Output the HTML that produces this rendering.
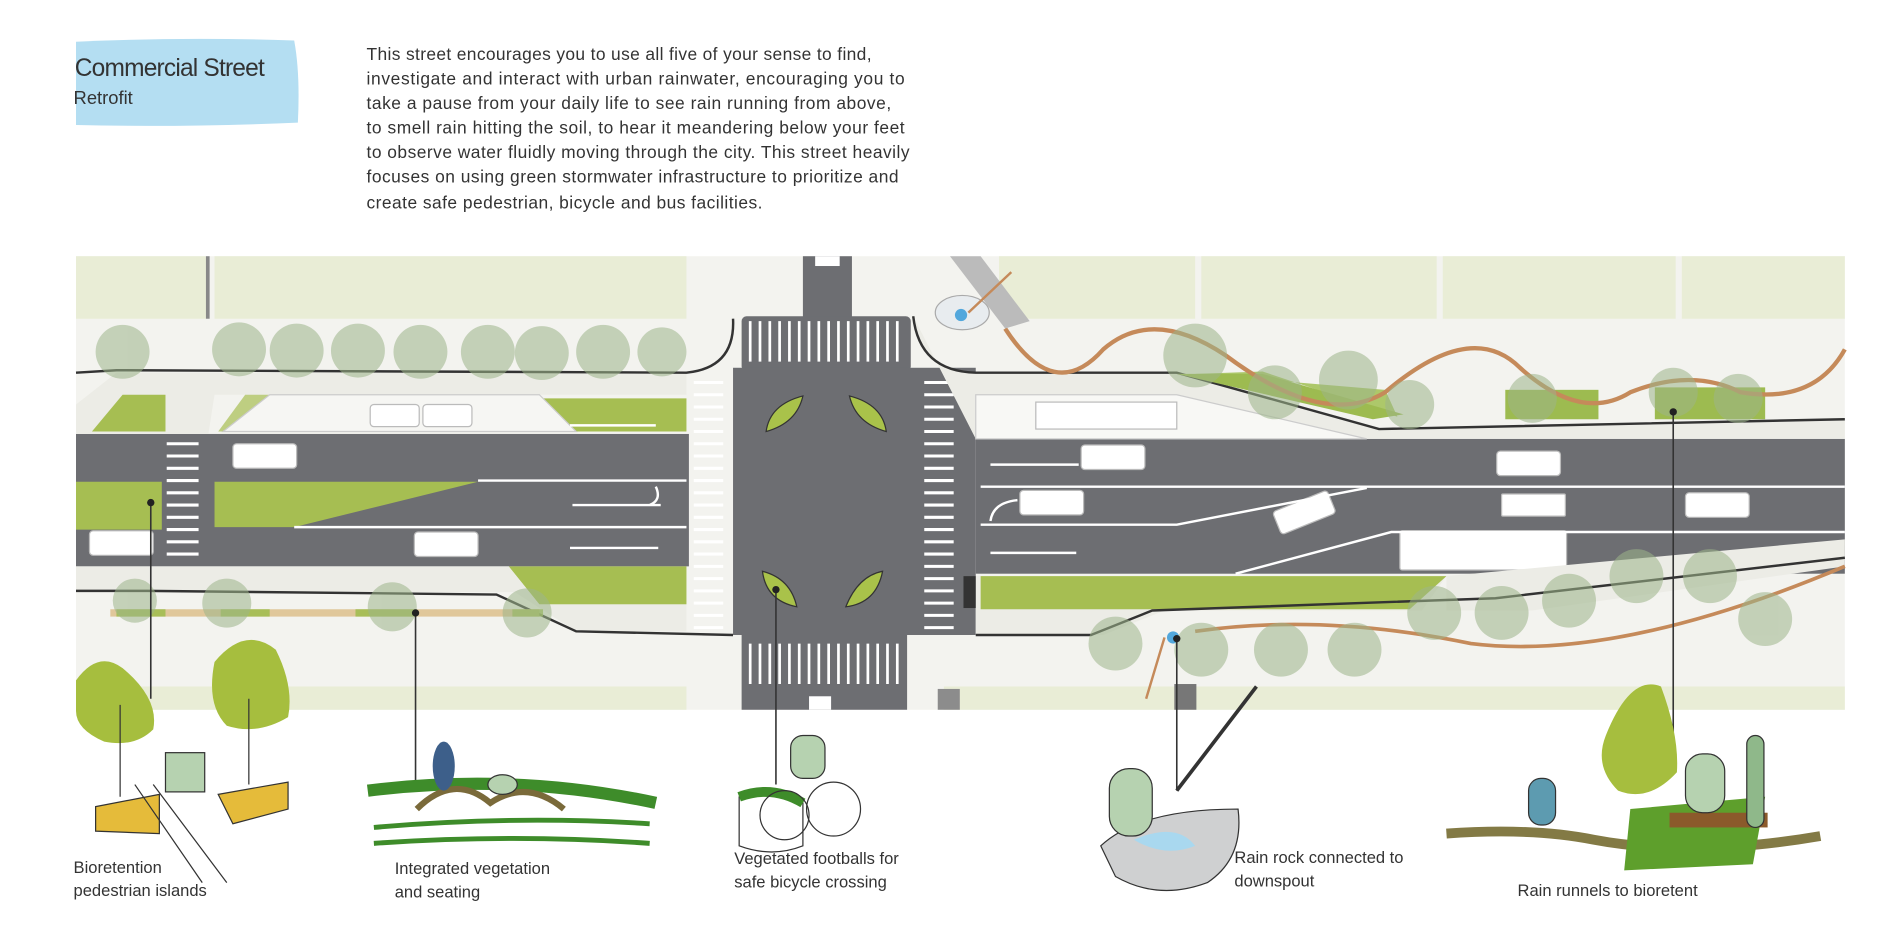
<!DOCTYPE html>
<html><head><meta charset="utf-8"><style>
html,body{margin:0;padding:0;background:#fff;width:1900px;height:927px;overflow:hidden}
svg{display:block}
text{font-family:"Liberation Sans",sans-serif;fill:#333}
</style></head><body>
<svg width="1900" height="927" viewBox="0 0 1550 756.2" xmlns="http://www.w3.org/2000/svg">
<!-- title -->
<path d="M62 34 Q150 30 240 33 Q245 60 243 100 Q150 104 62 102 Z" fill="#b4def2"/>
<text x="61" y="62" font-size="20" fill="#222" textLength="155">Commercial Street</text>
<text x="60" y="85" font-size="15" fill="#333">Retrofit</text>
<g font-size="14.2" fill="#333">
<text x="299" y="49" textLength="412">This street encourages you to use all five of your sense to find,</text>
<text x="299" y="69" textLength="439">investigate and interact with urban rainwater, encouraging you to</text>
<text x="299" y="89" textLength="428">take a pause from your daily life to see rain running from above,</text>
<text x="299" y="109" textLength="439">to smell rain hitting the soil, to hear it meandering below your feet</text>
<text x="299" y="129" textLength="443">to observe water fluidly moving through the city. This street heavily</text>
<text x="299" y="149" textLength="434">focuses on using green stormwater infrastructure to prioritize and</text>
<text x="299" y="170" textLength="323">create safe pedestrian, bicycle and bus facilities.</text>
</g>
<!-- plan base -->
<rect x="62" y="209" width="1443" height="370" fill="#f3f3ef"/>
<g fill="#e9edd6">
<rect x="62" y="209" width="106" height="51"/><rect x="175" y="209" width="385" height="51"/>
<rect x="815" y="209" width="160" height="51"/><rect x="980" y="209" width="192" height="51"/>
<rect x="1177" y="209" width="190" height="51"/><rect x="1372" y="209" width="133" height="51"/>
<rect x="62" y="560" width="498" height="19"/><rect x="770" y="560" width="735" height="19"/>
</g>
<rect x="168" y="209" width="3" height="51" fill="#888"/>
<!-- roads -->
<g fill="#6d6e72">
<rect x="655" y="209" width="40" height="55"/>
<rect x="605" y="258" width="138" height="45" rx="4"/>
<rect x="598" y="300" width="198" height="218"/>
<rect x="605" y="515" width="135" height="64"/>
<rect x="62" y="354" width="500" height="108"/>
<rect x="796" y="358" width="709" height="110"/>
</g>
<rect x="660" y="568" width="18" height="11" fill="#fff"/>
<rect x="665" y="209" width="20" height="8" fill="#fff"/>
<!-- crosswalk stripes -->
<g stroke="#fff" stroke-width="2.2">
<path d="M612 262v33M620 262v33M628 262v33M636 262v33M644 262v33M652 262v33M660 262v33M668 262v33M676 262v33M684 262v33M692 262v33M700 262v33M708 262v33M716 262v33M724 262v33M732 262v33"/>
<path d="M612 525v33M620 525v33M628 525v33M636 525v33M644 525v33M652 525v33M660 525v33M668 525v33M676 525v33M684 525v33M692 525v33M700 525v33M708 525v33M716 525v33M724 525v33M732 525v33"/>
</g>
<g stroke="#fff" stroke-width="2.5">
<path id="zc" d="M566 312h24M566 322h24M566 332h24M566 342h24M566 352h24M566 362h24M566 372h24M566 382h24M566 392h24M566 402h24M566 412h24M566 422h24M566 432h24M566 442h24M566 452h24M566 462h24M566 472h24M566 482h24M566 492h24M566 502h24M566 512h24"/>
<path d="M754 312h24M754 322h24M754 332h24M754 342h24M754 352h24M754 362h24M754 372h24M754 382h24M754 392h24M754 402h24M754 412h24M754 422h24M754 432h24M754 442h24M754 452h24M754 462h24M754 472h24M754 482h24M754 492h24M754 502h24M754 512h24"/>
<path d="M136 322h26M136 332h26M136 342h26M136 352h26M136 362h26M136 372h26M136 382h26M136 392h26M136 402h26M136 412h26M136 422h26M136 432h26M136 442h26M136 452h26"/>
</g>
<!-- footballs -->
<g fill="#a9c24a" stroke="#333" stroke-width="1">
<path d="M625 352 Q628 330 655 323 Q650 345 625 352Z"/>
<path d="M693 323 Q720 330 723 352 Q698 345 693 323Z"/>
<path d="M622 466 Q645 472 650 495 Q625 490 622 466Z"/>
<path d="M720 466 Q700 470 690 495 Q715 492 720 466Z"/>
</g>
<!-- left side sidewalks & greens -->
<path d="M62 330 L95 304 L560 304 L560 322 L175 322 L170 354 L62 354Z" fill="#ecece6"/>
<path d="M62 304 L95 302 L560 304 Q600 300 598 260" fill="none" stroke="#333" stroke-width="2"/>
<g fill="#a6be52">
<path d="M75 352 L100 322 L135 322 L135 352Z"/>
<path d="M178 352 L200 322 L230 322 L230 352Z" opacity=".7"/>
<path d="M430 325 L560 325 L560 352 L460 352Z"/>
<path d="M62 393 L132 393 L132 432 L62 432Z"/>
<path d="M175 393 L390 393 L240 430 L175 430Z"/>
<path d="M415 462 L560 462 L560 493 L440 493Z"/>
</g>
<path d="M182 352 L220 322 L440 322 L470 352Z" fill="#f6f6f3" stroke="#ccc"/>
<g fill="#fff" stroke="#bbb" stroke-width="1">
<rect x="302" y="330" width="40" height="18" rx="3"/><rect x="345" y="330" width="40" height="18" rx="3"/>
<rect x="190" y="362" width="52" height="20" rx="3"/><rect x="338" y="434" width="52" height="20" rx="3"/>
<rect x="73" y="433" width="52" height="20" rx="3"/>
<rect x="882" y="363" width="52" height="20" rx="3"/><rect x="1221" y="368" width="52" height="20" rx="3"/>
<rect x="832" y="400" width="52" height="20" rx="3"/><rect x="1225" y="403" width="52" height="18" rx="1"/>
<rect x="1375" y="402" width="52" height="20" rx="3"/>
<rect x="1040" y="408" width="48" height="20" rx="3" transform="rotate(-22 1064 418)"/>
<rect x="1142" y="433" width="136" height="32" rx="2"/>
</g>
<g stroke="#fff" stroke-width="2" fill="none">
<path d="M240 430 L560 430M390 392 L560 392M465 347h70M467 412h72M465 447h72M535 397 Q540 408 530 412"/>
<path d="M800 397 L1505 397M800 428 L960 428 L1115 398M1008 468 L1135 434 L1505 434M880 379h-72M808 451h70M830 408 Q810 410 808 425"/>
</g>
<!-- left bottom sidewalk -->
<path d="M62 462 L415 462 L440 493 L560 493 L560 515 L470 515 L420 483 L62 483Z" fill="#ecece6"/>
<path d="M62 482 L120 482 L405 485 L470 515 L598 518" fill="none" stroke="#333" stroke-width="2"/>
<rect x="90" y="497" width="350" height="6" fill="#e0c79a"/>
<g fill="#9bbd48" opacity=".8"><rect x="95" y="497" width="40" height="6"/><rect x="180" y="497" width="40" height="6"/><rect x="290" y="497" width="50" height="6"/><rect x="418" y="497" width="25" height="6"/></g>
<!-- right side -->
<path d="M745 258 Q750 303 796 304 L960 304 L1125 350 L1505 342 L1505 358 L796 358 Z" fill="#ecece6"/>
<path d="M745 258 Q750 303 796 304 L960 304 L1125 350 L1505 342" fill="none" stroke="#333" stroke-width="2"/>
<path d="M796 322 L960 322 L1115 358 L796 358Z" fill="#f8f8f5" stroke="#ccc"/>
<rect x="845" y="328" width="115" height="22" fill="#fff" stroke="#bbb"/>
<path d="M975 305 L1030 303 L1140 340 L1130 318Z" fill="#9bbd48" opacity=".8"/>
<path d="M960 305 L1030 305 L1145 338 L1120 342Z" fill="#9dbb50"/>
<rect x="1228" y="318" width="76" height="24" fill="#9dbb50"/>
<rect x="1350" y="316" width="90" height="26" fill="#9dbb50"/>
<path d="M820 268 Q860 330 900 285 Q940 250 1000 290 Q1080 350 1130 320 Q1200 260 1240 300 Q1290 345 1330 320 Q1380 300 1420 320 Q1480 330 1505 285" fill="none" stroke="#c58a5a" stroke-width="3.5"/>
<path d="M796 470 L1180 470 L1160 498 L950 498 L900 518 L796 518Z" fill="#ecece6"/>
<path d="M800 470 L1180 470 L1150 497 L800 497Z" fill="#a6be52"/>
<path d="M1180 470 L1505 440 L1505 462 L1250 498 L1180 498Z" fill="#ecece6"/>
<path d="M796 518 L890 518 L940 498 L1220 488 L1505 455" fill="none" stroke="#333" stroke-width="2"/>
<path d="M975 515 Q1080 500 1200 525 Q1320 540 1505 462" fill="none" stroke="#c58a5a" stroke-width="3"/>
<rect x="786" y="470" width="10" height="26" fill="#333"/>
<rect x="765" y="562" width="18" height="17" fill="#8c8c8c"/><rect x="958" y="558" width="18" height="21" fill="#777"/>
<path d="M775 209 L800 209 L840 262 L820 268Z" fill="#bbb"/>
<ellipse cx="785" cy="255" rx="22" ry="14" fill="#e8ecef" stroke="#aaa"/><circle cx="784" cy="257" r="5" fill="#52a7dc"/>
<path d="M790 255 L825 222M950 520 L935 570" stroke="#c58a5a" stroke-width="2"/>
<circle cx="957" cy="520" r="5" fill="#52a7dc"/>
<!-- trees -->
<g fill="#9db58a" opacity=".55">
<circle cx="100" cy="287" r="22"/><circle cx="195" cy="285" r="22"/><circle cx="242" cy="286" r="22"/><circle cx="292" cy="286" r="22"/><circle cx="343" cy="287" r="22"/><circle cx="398" cy="287" r="22"/><circle cx="442" cy="288" r="22"/><circle cx="492" cy="287" r="22"/><circle cx="540" cy="287" r="20"/>
<circle cx="975" cy="290" r="26"/><circle cx="1040" cy="320" r="22"/><circle cx="1100" cy="310" r="24"/><circle cx="1150" cy="330" r="20"/><circle cx="1250" cy="325" r="20"/><circle cx="1365" cy="320" r="20"/><circle cx="1418" cy="325" r="20"/>
<circle cx="110" cy="490" r="18"/><circle cx="185" cy="492" r="20"/><circle cx="320" cy="495" r="20"/><circle cx="430" cy="500" r="20"/>
<circle cx="910" cy="525" r="22"/><circle cx="980" cy="530" r="22"/><circle cx="1045" cy="530" r="22"/><circle cx="1105" cy="530" r="22"/><circle cx="1170" cy="500" r="22"/><circle cx="1225" cy="500" r="22"/><circle cx="1280" cy="490" r="22"/><circle cx="1335" cy="470" r="22"/><circle cx="1395" cy="470" r="22"/><circle cx="1440" cy="505" r="22"/>
</g>
<!-- callouts -->
<g stroke="#333" stroke-width="1.3">
<path d="M123 410 V570M339 500 V640M633 480 V640M960 520 V645M1365 335 V630"/>
</g>
<g fill="#222"><circle cx="123" cy="410" r="3"/><circle cx="339" cy="500" r="3"/><circle cx="633" cy="481" r="3"/><circle cx="960" cy="521" r="3"/><circle cx="1365" cy="336" r="3"/></g>
<!-- vignettes -->
<g fill="#a6be3e">
<path d="M62 555 Q80 530 100 545 Q130 570 125 595 Q110 610 85 605 Q62 595 62 580Z"/>
<path d="M175 540 Q200 510 225 530 Q240 560 235 585 Q210 600 185 592 Q168 575 175 540Z"/>
<path d="M1310 600 Q1330 550 1355 560 Q1370 600 1368 630 Q1345 655 1320 645 Q1300 625 1310 600Z"/>
</g>
<path d="M78 658 L130 648 L130 680 L78 678Z" fill="#e5bb3a" stroke="#333"/>
<path d="M178 648 L235 638 L235 660 L190 672Z" fill="#e5bb3a" stroke="#333"/>
<rect x="135" y="614" width="32" height="32" fill="#b6d2b0" stroke="#333"/>
<path d="M110 640 L165 720M125 640 L185 720M98 575 V650M203 570 V640" stroke="#333" fill="none"/>
<path d="M300 645 Q420 630 535 655" stroke="#3e8c2a" stroke-width="10" fill="none"/>
<path d="M305 675 Q420 665 530 672M305 688 Q420 680 530 688" stroke="#3e8c2a" stroke-width="4" fill="none"/>
<path d="M340 660 Q370 630 400 655 Q430 635 460 660" stroke="#7a6a3a" stroke-width="5" fill="none"/>
<ellipse cx="362" cy="625" rx="9" ry="20" fill="#3d5f8a"/><ellipse cx="410" cy="640" rx="12" ry="8" fill="#b6d2b0" stroke="#333"/>
<path d="M603 650 Q630 640 655 655 L655 690 Q630 700 603 690Z" fill="#fff" stroke="#333"/>
<path d="M603 650 Q630 640 655 655" stroke="#3e8c2a" stroke-width="8" fill="none"/>
<circle cx="680" cy="660" r="22" fill="none" stroke="#333"/><circle cx="640" cy="665" r="20" fill="none" stroke="#333"/>
<rect x="645" y="600" width="28" height="35" rx="10" fill="#b6d2b0" stroke="#333"/>
<path d="M898 690 Q930 660 1010 660 Q1015 700 985 720 Q945 735 910 715Z" fill="#cfd0d1" stroke="#333"/>
<path d="M925 685 Q960 670 975 690 Q950 700 925 685Z" fill="#a9d8ef"/>
<rect x="905" y="627" width="35" height="55" rx="16" fill="#b6d2b0" stroke="#333"/>
<path d="M1025 560 L960 645" stroke="#333" stroke-width="3" fill="none"/>
<path d="M1180 680 Q1250 675 1300 685 Q1380 700 1485 682" stroke="#837a45" stroke-width="8" fill="none"/>
<path d="M1330 660 L1440 650 L1430 705 L1325 710Z" fill="#5e9f2c"/>
<rect x="1362" y="663" width="80" height="12" fill="#8b5a2b"/>
<rect x="1375" y="615" width="32" height="48" rx="14" fill="#b6d2b0" stroke="#333"/>
<rect x="1425" y="600" width="14" height="75" rx="7" fill="#8fb88a" stroke="#333"/>
<rect x="1247" y="635" width="22" height="38" rx="10" fill="#5d9bb0" stroke="#333"/>
<!-- labels -->
<g font-size="13.5" fill="#333">
<text x="60" y="712">Bioretention</text><text x="60" y="731">pedestrian islands</text>
<text x="322" y="713">Integrated vegetation</text><text x="322" y="732">and seating</text>
<text x="599" y="705">Vegetated footballs for</text><text x="599" y="724">safe bicycle crossing</text>
<text x="1007" y="704">Rain rock connected to</text><text x="1007" y="723">downspout</text>
<text x="1238" y="731">Rain runnels to bioretent</text>
</g>
</svg>
</body></html>
